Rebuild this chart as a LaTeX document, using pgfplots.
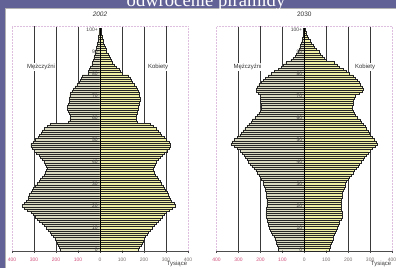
\documentclass[border=0pt]{standalone}
\usepackage{pgfplots}
\pgfplotsset{compat=1.18}
\usepackage{pgfplotstable}
\usepackage{fontspec}
\setmainfont{Liberation Sans}
\newfontfamily\serif{Liberation Serif}
\definecolor{slide}{RGB}{98,98,150}
\definecolor{mfill}{RGB}{218,218,192}
\definecolor{ffill}{RGB}{240,240,164}
\definecolor{tlneg}{RGB}{208,80,122}
\definecolor{tlpos}{RGB}{120,110,110}

\pgfplotstableread{
age m f
0 182 175
1 185 180
2 190 185
3 195 190
4 200 195
5 205 200
6 212 206
7 220 212
8 228 220
9 235 228
10 245 236
11 255 245
12 265 253
13 275 262
14 285 272
15 295 282
16 305 292
17 315 302
18 330 315
19 345 330
20 355 340
21 345 335
22 335 325
23 328 318
24 325 314
25 320 310
26 315 305
27 308 298
28 302 292
29 295 286
30 287 280
31 278 272
32 270 265
33 262 258
34 255 250
35 248 245
36 243 242
37 242 242
38 245 245
39 250 250
40 255 256
41 262 263
42 270 272
43 278 282
44 290 293
45 300 303
46 310 313
47 315 320
48 315 320
49 305 312
50 295 300
51 282 290
52 275 280
53 268 272
54 262 265
55 252 255
56 240 243
57 228 230
58 145 168
59 138 165
60 136 165
61 136 166
62 140 168
63 145 170
64 148 172
65 148 175
66 145 178
67 142 180
68 140 182
69 139 182
70 138 180
71 135 178
72 128 175
73 120 170
74 114 165
75 105 155
76 96 148
77 90 142
78 86 138
79 80 130
80 55 100
81 52 92
82 48 85
83 44 75
84 38 65
85 34 55
86 31 50
87 29 45
88 26 40
89 24 36
90 21 30
91 18 26
92 16 22
93 14 18
94 12 15
95 10 13
96 9 11
97 8 9
98 6 7
99 5 5
100 4 4
}\dataA

\pgfplotstableread{
age m f
0 118 114
1 120 116
2 123 119
3 127 122
4 131 126
5 135 129
6 140 133
7 146 137
8 151 142
9 156 147
10 160 151
11 164 154
12 166 157
13 168 160
14 172 166
15 175 172
16 176 173
17 175 170
18 174 168
19 173 167
20 172 167
21 172 167
22 172 167
23 172 168
24 173 170
25 174 172
26 175 174
27 177 177
28 180 180
29 184 184
30 187 188
31 190 192
32 196 198
33 202 205
34 208 212
35 215 220
36 222 227
37 230 235
38 240 243
39 248 250
40 255 258
41 262 266
42 270 274
43 276 282
44 283 290
45 292 298
46 305 310
47 320 323
48 335 332
49 330 328
50 320 320
51 305 310
52 295 302
53 287 295
54 280 290
55 272 282
56 262 275
57 254 268
58 244 260
59 236 252
60 225 240
61 215 232
62 208 226
63 202 222
64 198 218
65 197 218
66 198 220
67 200 222
68 200 224
69 200 226
70 202 230
71 210 250
72 218 265
73 220 268
74 215 262
75 208 255
76 195 248
77 186 240
78 178 232
79 165 222
80 150 205
81 138 190
82 120 175
83 105 160
84 95 148
85 85 136
86 62 100
87 52 88
88 42 80
89 36 72
90 30 65
91 25 55
92 21 45
93 18 38
94 14 30
95 11 24
96 9 18
97 7 14
98 6 10
99 5 7
100 4 5
}\dataB

\pgfplotsset{
  pyr/.style={
    anchor=south west, scale only axis, width=#1, height=224.6pt,
    xmin=-400, xmax=400, ymin=-0.5, ymax=101.6,
    axis x line*=bottom, axis y line=none,
    x axis line style={-, gray!60!black, line width=0.4pt},
    xtick={-400,-300,...,400},
    xticklabels={\textcolor{tlneg}{400},\textcolor{tlneg}{300},\textcolor{tlneg}{200},\textcolor{tlneg}{100},\textcolor{tlpos}{0},\textcolor{tlpos}{100},\textcolor{tlpos}{200},\textcolor{tlpos}{300},\textcolor{tlpos}{400}},
    xtick align=outside, major tick length=2.5pt,
    tick style={gray!60!black, line width=0.4pt},
    xticklabel style={font=\fontsize{5}{6}\selectfont, inner sep=1pt, yshift=-3.5pt},
    ytick=\empty,
    extra x ticks={-300,-200,-100,100,200,300},
    extra x tick labels={},
    extra x tick style={grid=major, major tick length=0pt},
    grid style={gray!45!black, line width=0.5pt},
    clip=false,
  },
  mbar/.style={xbar, bar width=1, bar shift=0pt, fill=mfill, draw=black!85, line width=0.2pt},
  fbar/.style={xbar, bar width=1, bar shift=0pt, fill=ffill, draw=black!85, line width=0.2pt},
}
\newcommand{\agelabels}{%
  \node[anchor=east, inner sep=0.5pt, font=\fontsize{5}{6}\selectfont, text=black!75] at (axis cs:-7,0) {0};
  \node[anchor=east, inner sep=0.5pt, font=\fontsize{5}{6}\selectfont, text=black!75] at (axis cs:-7,10) {10};
  \node[anchor=east, inner sep=0.5pt, font=\fontsize{5}{6}\selectfont, text=black!75] at (axis cs:-7,20) {20};
  \node[anchor=east, inner sep=0.5pt, font=\fontsize{5}{6}\selectfont, text=black!75] at (axis cs:-7,30) {30};
  \node[anchor=east, inner sep=0.5pt, font=\fontsize{5}{6}\selectfont, text=black!75] at (axis cs:-7,40) {40};
  \node[anchor=east, inner sep=0.5pt, font=\fontsize{5}{6}\selectfont, text=black!75] at (axis cs:-7,50) {50};
  \node[anchor=east, inner sep=0.5pt, font=\fontsize{5}{6}\selectfont, text=black!75] at (axis cs:-7,60) {60};
  \node[anchor=east, inner sep=0.5pt, font=\fontsize{5}{6}\selectfont, text=black!75] at (axis cs:-7,70) {70};
  \node[anchor=east, inner sep=0.5pt, font=\fontsize{5}{6}\selectfont, text=black!75] at (axis cs:-7,80) {80};
  \node[anchor=east, inner sep=0.5pt, font=\fontsize{5}{6}\selectfont, text=black!75] at (axis cs:-7,90) {90};
  \node[anchor=east, inner sep=0.5pt, font=\fontsize{5}{6}\selectfont, text=black!75] at (axis cs:-7,100) {100+};
}

\begin{document}
\begin{tikzpicture}[x=1pt,y=1pt]
\path[use as bounding box, clip] (0pt,0pt) rectangle (396pt,268pt);
\fill[slide] (0pt,0pt) rectangle (396pt,268pt);
\fill[white] (5pt,0pt) rectangle (396pt,259.6pt);
\draw[gray!60, line width=0.4pt] (5pt,0pt) -- (5pt,259.6pt) -- (396pt,259.6pt);
\node[text=white, font=\serif\fontsize{18.6}{20}\selectfont, anchor=base, inner sep=0pt] at (206pt,261.6pt) {odwrócenie piramidy};
\node[font=\fontsize{6.5}{7}\selectfont\itshape, text=black!80] at (100pt,254pt) {2002};
\node[font=\fontsize{6.5}{7}\selectfont, text=black!80] at (304.3pt,254pt) {2030};

\begin{axis}[pyr=176pt, at={(12pt,17.3pt)}]
\draw[densely dotted, violet!25, line width=0.5pt] (rel axis cs:0,0) -- (rel axis cs:0,1) -- (rel axis cs:1,1) -- (rel axis cs:1,0);
\addplot[mbar] table[x expr=-\thisrow{m}, y=age] {\dataA};
\addplot[fbar] table[x=f, y=age] {\dataA};
\draw[black, line width=0.6pt] (axis cs:0,-0.5) -- (axis cs:0,100.6);
\node[fill=white, inner sep=1pt, font=\fontsize{6}{7}\selectfont, text=black!80] at (axis cs:-268,83.1) {Mężczyźni};
\node[fill=white, inner sep=1pt, font=\fontsize{6}{7}\selectfont, text=black!80] at (axis cs:264,83.1) {Kobiety};
\agelabels
\node[font=\fontsize{6}{7}\selectfont, text=black!75, yshift=-13.6pt] at (axis cs:350,-0.5) {Tysiące};
\end{axis}

\begin{axis}[pyr=175.5pt, at={(216.6pt,17.3pt)}]
\draw[densely dotted, violet!25, line width=0.5pt] (rel axis cs:0,0) -- (rel axis cs:0,1) -- (rel axis cs:1,1) -- (rel axis cs:1,0);
\addplot[mbar] table[x expr=-\thisrow{m}, y=age] {\dataB};
\addplot[fbar] table[x=f, y=age] {\dataB};
\draw[black, line width=0.6pt] (axis cs:0,-0.5) -- (axis cs:0,100.6);
\node[fill=white, inner sep=1pt, font=\fontsize{6}{7}\selectfont, text=black!80] at (axis cs:-259,83.1) {Mężczyźni};
\node[fill=white, inner sep=1pt, font=\fontsize{6}{7}\selectfont, text=black!80] at (axis cs:277,83.1) {Kobiety};
\agelabels
\node[font=\fontsize{6}{7}\selectfont, text=black!75, yshift=-13.6pt] at (axis cs:350,-0.5) {Tysiące};
\end{axis}
\end{tikzpicture}
\end{document}
